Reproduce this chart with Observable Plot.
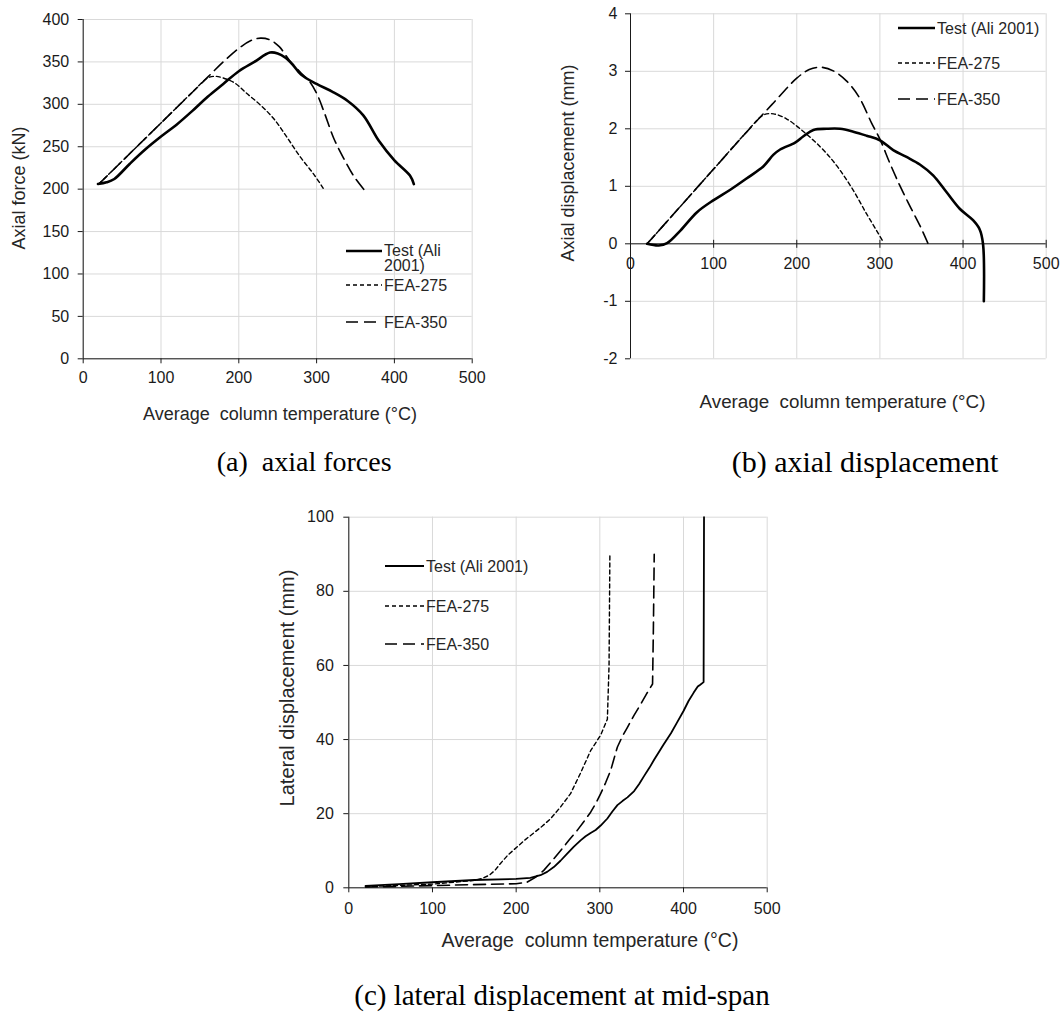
<!DOCTYPE html>
<html><head><meta charset="utf-8">
<script src="https://cdn.jsdelivr.net/npm/d3@7"></script>
<script src="https://cdn.jsdelivr.net/npm/@observablehq/plot@0.6"></script>
<style>
body{margin:0;background:#fff;}
#fig{position:relative;width:1062px;height:1014px;overflow:hidden;font-family:"Liberation Sans",Arial,sans-serif;color:#262626;background:#fff;}
.panel{position:absolute;}
.t{position:absolute;white-space:nowrap;line-height:1;font-size:18px;}
.xt{transform:translate(-50%,-50%);}
.yt{transform:translate(-50%,-50%) rotate(-90deg);}
.cap{position:absolute;font-family:"Liberation Serif","Times New Roman",serif;line-height:1;white-space:nowrap;color:#000;}
.leg{position:absolute;font-size:16px;line-height:15px;white-space:nowrap;transform:translateY(-50%);}
.sw{position:absolute;overflow:visible;}
</style></head><body><div id="fig"></div>
<script>
// ---------- tick values ----------
const xTicks = [0, 100, 200, 300, 400, 500];
const forceTicks = [0, 50, 100, 150, 200, 250, 300, 350, 400];
const axialTicks = [-2, -1, 0, 1, 2, 3, 4];
const lateralTicks = [0, 20, 40, 60, 80, 100];

// ---------- (a) axial force (kN) vs temperature (°C) ----------
const aTestT = [19, 30, 40, 60, 80, 100, 120, 140, 160, 180, 200, 220, 240, 250, 260, 270, 280, 300, 320, 340, 360, 380, 400, 420, 425];
const aTestF = [206, 208, 212, 230, 247, 262, 276, 292, 309, 324, 339, 350, 361, 360, 355, 346, 335, 324, 315, 304, 287, 257, 234, 216, 206];
const a350T = [20, 60, 100, 140, 160, 180, 200, 215, 228, 240, 252, 265, 280, 290, 300, 310, 322, 335, 348, 363];
const a350F = [206, 242, 278, 314, 332, 350, 366, 375, 378, 376, 368, 352, 337, 328, 313, 290, 260, 236, 215, 197];
const a275T = [20, 60, 100, 140, 160, 170, 180, 195, 210, 228, 245, 262, 279, 296, 310];
const a275F = [206, 242, 278, 314, 331, 333, 331, 325, 313, 299, 283, 261, 238, 218, 199];

// ---------- (b) axial displacement (mm) ----------
const bTestT = [20, 34, 44, 60, 80, 100, 120, 140, 160, 172, 180, 198, 208, 220, 236, 252, 268, 284, 300, 316, 332, 348, 364, 380, 396, 412, 420, 424, 425];
const bTestD = [0, -0.03, 0.01, 0.23, 0.55, 0.76, 0.94, 1.14, 1.35, 1.55, 1.64, 1.76, 1.87, 1.98, 2.0, 2.0, 1.95, 1.88, 1.80, 1.63, 1.51, 1.38, 1.19, 0.90, 0.61, 0.41, 0.25, 0, -1];
const b350T = [20, 60, 100, 140, 170, 200, 215, 230, 245, 260, 275, 290, 300, 312, 325, 337, 349, 358];
const b350D = [0, 0.65, 1.3, 1.95, 2.42, 2.88, 3.03, 3.07, 3.0, 2.83, 2.55, 2.1, 1.82, 1.4, 0.98, 0.63, 0.29, 0];
const b275T = [20, 60, 100, 140, 160, 172, 188, 204, 220, 236, 252, 268, 284, 296, 304];
const b275D = [0, 0.65, 1.3, 1.95, 2.24, 2.26, 2.17, 2.0, 1.8, 1.57, 1.28, 0.93, 0.52, 0.23, 0.03];

// ---------- (c) lateral displacement (mm) ----------
const cTestT = [20, 60, 100, 150, 200, 217, 229, 237, 245, 253, 261, 269, 277, 283, 289, 295, 301, 309, 315, 321, 327, 333, 341, 347, 353, 359, 365, 371, 376, 385, 392, 400, 406, 412, 417, 420, 424, 424.5];
const cTestL = [0.5, 1.0, 1.5, 2.1, 2.4, 2.7, 3.4, 4.3, 5.6, 7.3, 9.2, 11.1, 12.8, 13.9, 14.8, 15.6, 16.8, 18.7, 20.6, 22.3, 23.4, 24.4, 26.1, 28.0, 30.2, 32.3, 34.6, 36.8, 38.6, 41.7, 44.5, 47.7, 50.4, 52.6, 54.3, 54.8, 55.5, 100];
const c275T = [20, 100, 150, 160, 168, 175, 181, 190, 201, 211, 221, 231, 241, 253, 265, 277, 289, 301, 309, 311, 312];
const c275L = [0.3, 1, 2, 2.6, 3.4, 4.8, 6.5, 8.8, 11, 13, 14.8, 16.6, 18.6, 21.8, 25.4, 31, 37, 41.2, 45.5, 60, 90];
const c350T = [20, 100, 200, 213, 223, 233, 243, 253, 263, 273, 281, 289, 295, 301, 307, 313, 317, 321, 327, 333, 341, 349, 356, 363, 364, 365];
const c350L = [0.2, 0.6, 1.1, 1.5, 2.8, 4.7, 7.3, 10, 12.8, 15.5, 17.9, 20.4, 22.7, 25.4, 28.4, 31.7, 34.9, 38, 40.9, 43.3, 46.6, 49.6, 52.4, 55, 70, 90];

const seriesNames = ["Test (Ali 2001)", "FEA-275", "FEA-350"];

const pts = (T, V) => T.map((t, i) => ({t, v: V[i]}));
const fmt = d => String(d);
const FONT = '"Liberation Sans", Arial, sans-serif';
const GRID = {stroke: "#d9d9d9", strokeOpacity: 1, strokeWidth: 1};
const AX = "#1a1a1a";

const sty = {
  test: {stroke: "#000", strokeWidth: 2.6},
  testThin: {stroke: "#000", strokeWidth: 1.8},
  f275: {stroke: "#000", strokeWidth: 1.4, strokeDasharray: "4,3"},
  f350: {stroke: "#000", strokeWidth: 1.6, strokeDasharray: "12,6"}
};

const fig = document.getElementById("fig");
function place(el, left, top) {
  const d = document.createElement("div");
  d.className = "panel"; d.style.left = left + "px"; d.style.top = top + "px";
  d.appendChild(el); fig.appendChild(d);
}
function text(cls, str, x, y, extra) {
  const d = document.createElement("div");
  d.className = cls; d.textContent = str;
  d.style.left = x + "px"; d.style.top = y + "px";
  if (extra) Object.assign(d.style, extra);
  fig.appendChild(d); return d;
}
function legendRow(x0, x1, yc, s, label) {
  const ns = "http://www.w3.org/2000/svg";
  const svg = document.createElementNS(ns, "svg");
  svg.setAttribute("class", "sw");
  svg.setAttribute("width", x1 - x0); svg.setAttribute("height", 10);
  svg.style.left = x0 + "px"; svg.style.top = (yc - 5) + "px";
  const ln = document.createElementNS(ns, "line");
  ln.setAttribute("x1", 0); ln.setAttribute("x2", x1 - x0);
  ln.setAttribute("y1", 5); ln.setAttribute("y2", 5);
  ln.setAttribute("stroke", "#000"); ln.setAttribute("stroke-width", s.strokeWidth);
  if (s.strokeDasharray) ln.setAttribute("stroke-dasharray", s.strokeDasharray);
  svg.appendChild(ln); fig.appendChild(svg);
  const d = text("leg", "", x1 + 2, yc);
  d.innerHTML = label;
  return d;
}

const baseStyle = {fontFamily: FONT, fontSize: "16px", color: AX, background: "transparent", overflow: "visible"};

// ---------- Panel (a) ----------
const plotA = Plot.plot({
  width: 500, height: 395,
  marginLeft: 82.7, marginRight: 28.3, marginTop: 19, marginBottom: 36.7,
  x: {domain: [0, 500]}, y: {domain: [0, 400]},
  style: baseStyle,
  marks: [
    Plot.gridX({ticks: xTicks, ...GRID}),
    Plot.gridY({ticks: forceTicks, ...GRID}),
    Plot.axisX({ticks: xTicks, tickSize: 5, tickPadding: 8, label: null, tickFormat: fmt, fontSize: 16, stroke: AX}),
    Plot.axisY({ticks: forceTicks, tickSize: 5, tickPadding: 9, label: null, tickFormat: fmt, fontSize: 16, stroke: AX}),
    Plot.ruleX([0], {stroke: AX}),
    Plot.ruleY([0], {stroke: AX}),
    Plot.line(pts(a275T, a275F), {x: "t", y: "v", curve: "catmull-rom", ...sty.f275}),
    Plot.line(pts(a350T, a350F), {x: "t", y: "v", curve: "catmull-rom", ...sty.f350}),
    Plot.line(pts(aTestT, aTestF), {x: "t", y: "v", curve: "catmull-rom", ...sty.test})
  ]
});
place(plotA, 0, 0);

// ---------- Panel (b) ----------
const tickMark = {draw(ctx) { ctx.moveTo(0, -4); ctx.lineTo(0, 4); }};
const plotB = Plot.plot({
  width: 532, height: 395,
  marginLeft: 100, marginRight: 16.3, marginTop: 13.3, marginBottom: 36.7,
  x: {domain: [0, 500], axis: null}, y: {domain: [-2, 4]},
  style: baseStyle,
  marks: [
    Plot.gridX({ticks: xTicks, ...GRID}),
    Plot.gridY({ticks: axialTicks, ...GRID}),
    Plot.axisY({ticks: axialTicks, tickSize: 5, tickPadding: 8, label: null, tickFormat: fmt, fontSize: 16, stroke: AX}),
    Plot.ruleX([0], {stroke: AX}),
    Plot.ruleY([0], {stroke: AX}),
    Plot.dot(xTicks, {x: d => d, y: () => 0, symbol: tickMark, r: 3, stroke: AX, fill: "none", strokeWidth: 1}),
    Plot.text(xTicks, {x: d => d, y: () => 0, text: fmt, dy: 20, fontSize: 16, fill: AX}),
    Plot.line(pts(b275T, b275D), {x: "t", y: "v", curve: "catmull-rom", ...sty.f275}),
    Plot.line(pts(b350T, b350D), {x: "t", y: "v", curve: "catmull-rom", ...sty.f350}),
    Plot.line(pts(bTestT, bTestD), {x: "t", y: "v", curve: "catmull-rom", ...sty.test})
  ]
});
place(plotB, 530, 0);

// ---------- Panel (c) ----------
const plotC = Plot.plot({
  width: 540, height: 425,
  marginLeft: 88.3, marginRight: 33.3, marginTop: 16.7, marginBottom: 37.7,
  x: {domain: [0, 500]}, y: {domain: [0, 100]},
  style: baseStyle,
  marks: [
    Plot.gridX({ticks: xTicks, ...GRID}),
    Plot.gridY({ticks: lateralTicks, ...GRID}),
    Plot.axisX({ticks: xTicks, tickSize: 5, tickPadding: 10, label: null, tickFormat: fmt, fontSize: 16, stroke: AX}),
    Plot.axisY({ticks: lateralTicks, tickSize: 5, tickPadding: 10, label: null, tickFormat: fmt, fontSize: 16, stroke: AX}),
    Plot.ruleX([0], {stroke: AX}),
    Plot.ruleY([0], {stroke: AX}),
    Plot.line(pts(c275T, c275L), {x: "t", y: "v", curve: "linear", ...sty.f275}),
    Plot.line(pts(c350T, c350L), {x: "t", y: "v", curve: "linear", ...sty.f350}),
    Plot.line(pts(cTestT, cTestL), {x: "t", y: "v", curve: "linear", ...sty.testThin})
  ]
});
place(plotC, 260, 500);

// ---------- axis titles ----------
const xTitle = "Average\u00a0 column temperature (\u00b0C)";
text("t xt", xTitle, 280, 413.8);
text("t yt", "Axial force (kN)", 19, 187.5);
text("t xt", xTitle, 842.5, 401.7, {fontSize: "18.8px"});
text("t yt", "Axial displacement (mm)", 568.3, 163);
text("t xt", xTitle, 590, 941, {fontSize: "19.5px"});
text("t yt", "Lateral displacement (mm)", 286.7, 688, {fontSize: "20px"});

// ---------- legends ----------
legendRow(346, 382, 251, sty.test, "Test (Ali<br>2001)").style.transform = "translateY(-8px)";
legendRow(346, 382, 285, sty.f275, seriesNames[1]);
legendRow(346, 382, 321.5, sty.f350, seriesNames[2]);

legendRow(898, 935, 28.3, sty.test, seriesNames[0]);
legendRow(898, 935, 63.3, sty.f275, seriesNames[1]);
legendRow(898, 935, 99.3, sty.f350, seriesNames[2]);

legendRow(385, 424, 566, sty.testThin, seriesNames[0]);
legendRow(385, 424, 605.5, sty.f275, seriesNames[1]);
legendRow(385, 424, 644, sty.f350, seriesNames[2]);

// ---------- captions ----------
text("cap", "(a)\u00a0 axial forces", 216.7, 447.7, {fontSize: "28px"});
text("cap", "(b) axial displacement", 731.7, 446.5, {fontSize: "30px"});
text("cap", "(c) lateral displacement at mid-span", 562, 981, {fontSize: "29px", transform: "translateX(-50%)"});
</script>
</body></html>
